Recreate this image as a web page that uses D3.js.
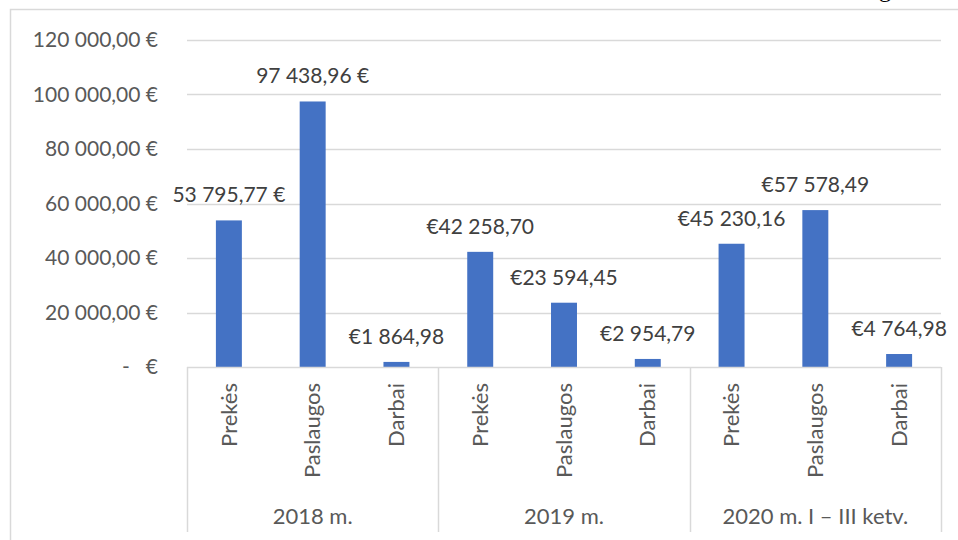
<!DOCTYPE html>
<html>
<head>
<meta charset="utf-8">
<script src="https://cdn.jsdelivr.net/npm/d3@7"></script>
<style>
  body { margin: 0; background: #fff; }
  svg text { font-family: Lato, "Noto Sans", sans-serif; }
</style>
</head>
<body>
<svg id="chart"></svg>
<script>
// data
const groups = ['2018 m.', '2019 m.', '2020 m. I \u2013 III ketv.'];
const categories = ['Prekės', 'Paslaugos', 'Darbai'];
const values = [
  [53795.77, 97438.96, 1864.98],
  [42258.70, 23594.45, 2954.79],
  [45230.16, 57578.49, 4764.98]
];
const valueLabels = [
  ['53 795,77 €', '97 438,96 €', '€1 864,98'],
  ['€42 258,70', '€23 594,45', '€2 954,79'],
  ['€45 230,16', '€57 578,49', '€4 764,98']
];
const yTicks = [0, 20000, 40000, 60000, 80000, 100000, 120000];
const yTickLabels = ['-   €', '20 000,00 €', '40 000,00 €', '60 000,00 €', '80 000,00 €', '100 000,00 €', '120 000,00 €'];

const width = 958, height = 540;
const margin = { top: 40, right: 17, bottom: 173, left: 187 };
const gridColor = '#d9d9d9';
const barColor = '#4472c4';
const fs = 21;

const svg = d3.select('#chart')
  .attr('width', width)
  .attr('height', height)
  .attr('viewBox', `0 0 ${width} ${height}`);

// chart frame (top + left edges visible)
svg.append('path')
  .attr('d', `M10.5,${height} V9.5 H${width}`)
  .attr('fill', 'none')
  .attr('stroke', gridColor)
  .attr('stroke-width', 1.5);

// cropped letter from surrounding page
svg.append('text')
  .attr('x', 879).attr('y', -3)
  .attr('font-size', 24)
  .style('font-family', '"Liberation Serif", serif')
  .attr('fill', '#000')
  .text('g');

const flat = [];
groups.forEach((g, gi) => categories.forEach((c, ci) => {
  flat.push({ key: gi + '|' + ci, group: g, cat: c, value: values[gi][ci], label: valueLabels[gi][ci] });
}));

const x = d3.scaleBand()
  .domain(flat.map(d => d.key))
  .range([margin.left, width - margin.right])
  .paddingInner(0.69)
  .paddingOuter(0.345);

const y = d3.scaleLinear()
  .domain([0, 120000])
  .range([height - margin.bottom, margin.top]);

const baseY = y(0);

// gridlines
svg.append('g')
  .selectAll('line')
  .data(yTicks.filter(t => t > 0))
  .join('line')
  .attr('x1', margin.left).attr('x2', width - margin.right)
  .attr('y1', d => Math.round(y(d)) + 0.5).attr('y2', d => Math.round(y(d)) + 0.5)
  .attr('stroke', gridColor)
  .attr('stroke-width', 1.3);

// y tick labels
svg.append('g')
  .selectAll('text')
  .data(yTicks)
  .join('text')
  .attr('x', 158)
  .attr('y', d => y(d))
  .attr('dy', '0.35em')
  .attr('text-anchor', 'end')
  .attr('font-size', fs)
  .attr('fill', '#595959')
  .style('white-space', 'pre')
  .text((d, i) => yTickLabels[i]);

// bars
svg.append('g')
  .selectAll('rect')
  .data(flat)
  .join('rect')
  .attr('x', d => x(d.key))
  .attr('y', d => y(d.value))
  .attr('width', x.bandwidth())
  .attr('height', d => baseY - y(d.value))
  .attr('fill', barColor);

// data labels
svg.append('g')
  .selectAll('text')
  .data(flat)
  .join('text')
  .attr('x', d => x(d.key) + x.bandwidth() / 2)
  .attr('y', d => y(d.value) - 18)
  .attr('text-anchor', 'middle')
  .attr('font-size', fs)
  .attr('fill', '#404040')
  .text(d => d.label);

// category axis: baseline + group separators
const axisBottom = 532;
svg.append('line')
  .attr('x1', margin.left).attr('x2', width - margin.right)
  .attr('y1', Math.round(baseY) + 0.5).attr('y2', Math.round(baseY) + 0.5)
  .attr('stroke', gridColor).attr('stroke-width', 1.5);

const step = x.step();
const groupEdges = d3.range(groups.length + 1).map(i => margin.left + i * categories.length * step);
svg.append('g')
  .selectAll('line')
  .data(groupEdges)
  .join('line')
  .attr('x1', d => Math.round(d) + 0.5).attr('x2', d => Math.round(d) + 0.5)
  .attr('y1', baseY).attr('y2', axisBottom)
  .attr('stroke', gridColor).attr('stroke-width', 1.5);

// category labels (rotated)
svg.append('g')
  .selectAll('text')
  .data(flat)
  .join('text')
  .attr('transform', d => `translate(${x(d.key) + x.bandwidth() / 2},383) rotate(-90)`)
  .attr('dy', '0.35em')
  .attr('text-anchor', 'end')
  .attr('font-size', fs + 1)
  .attr('fill', '#595959')
  .text(d => d.cat);

// group labels
svg.append('g')
  .selectAll('text')
  .data(groups)
  .join('text')
  .attr('x', (d, i) => (groupEdges[i] + groupEdges[i + 1]) / 2)
  .attr('y', 524)
  .attr('text-anchor', 'middle')
  .attr('font-size', fs + 1)
  .attr('fill', '#595959')
  .text(d => d);
</script>
</body>
</html>
